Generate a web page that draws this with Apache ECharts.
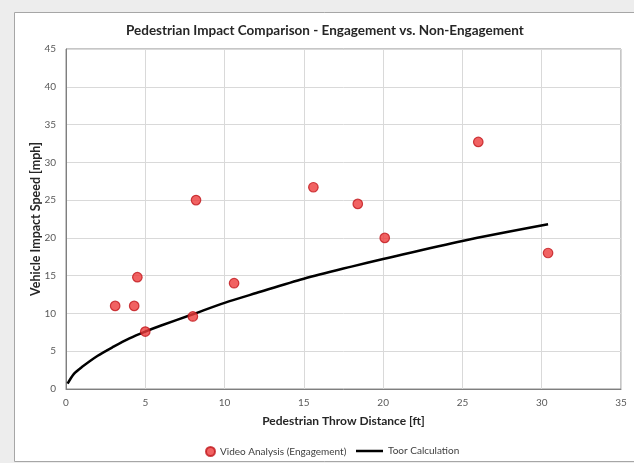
<!DOCTYPE html>
<html>
<head>
<meta charset="utf-8">
<script src="https://cdn.jsdelivr.net/npm/echarts@6/dist/echarts.min.js"></script>
<style>
  html, body { margin: 0; padding: 0; background: #ededed; }
  #chart { width: 634px; height: 463px; }
</style>
</head>
<body>
<div id="chart"></div>
<script>
// Observed pedestrian throws from video analysis
const videoDistance = [3.1, 4.3, 4.5, 5.0, 8.0, 8.2, 10.6, 15.6, 18.4, 20.1, 26.0, 30.4];
const videoSpeed    = [11.0, 11.0, 14.8, 7.6, 9.6, 25.0, 14.0, 26.7, 24.5, 20.0, 32.7, 18.0];

// Toor throw-distance relationship, tabulated
const toorDistance = [0.1, 0.5, 1, 2, 3, 4, 5, 6, 8, 10, 12, 15, 18, 20, 25, 30.4];
const toorSpeed    = [0.7, 2.0, 2.9, 4.4, 5.6, 6.7, 7.6, 8.4, 9.9, 11.4, 12.7, 14.6, 16.2, 17.2, 19.6, 21.8];

const xTicks = [0, 5, 10, 15, 20, 25, 30, 35];
const yTicks = [0, 5, 10, 15, 20, 25, 30, 35, 40, 45];

const FONT = 'Lato, "Liberation Sans", sans-serif';

const chart = echarts.init(document.getElementById('chart'), null, { renderer: 'canvas' });

const scatterData = videoDistance.map((d, i) => [d, videoSpeed[i]]);
const lineData = toorDistance.map((d, i) => [d, toorSpeed[i]]);

chart.setOption({
  animation: false,
  backgroundColor: '#ededed',
  graphic: [{
    type: 'rect',
    z: -10,
    shape: { x: 14.5, y: 12.5, width: 640, height: 449 },
    style: { fill: '#ffffff', stroke: '#a6a6a6', lineWidth: 1 }
  }],
  title: {
    text: 'Pedestrian Impact Comparison - Engagement vs. Non-Engagement',
    left: 121, top: 19,
    textStyle: { fontFamily: FONT, fontSize: 13.5, fontWeight: 'bold', color: '#262626' }
  },
  grid: {
    left: 66, right: 13, top: 49, bottom: 74,
    show: true, borderColor: '#8c8c8c', borderWidth: 1
  },
  xAxis: {
    type: 'value', min: xTicks[0], max: xTicks[xTicks.length - 1], interval: 5,
    name: 'Pedestrian Throw Distance [ft]', nameLocation: 'middle', nameGap: 26,
    nameMoveOverlap: false,
    nameTextStyle: { fontFamily: FONT, fontSize: 12, fontWeight: 'bold', color: '#262626' },
    axisLine: { show: true, lineStyle: { color: '#7f7f7f', width: 1 } },
    axisTick: { show: false },
    axisLabel: { fontFamily: FONT, fontSize: 10, color: '#595959', margin: 9 },
    splitLine: { show: true, lineStyle: { color: '#d9d9d9', width: 1 } }
  },
  yAxis: {
    type: 'value', min: yTicks[0], max: yTicks[yTicks.length - 1], interval: 5,
    name: 'Vehicle Impact Speed [mph]', nameLocation: 'middle', nameGap: 24,
    nameMoveOverlap: false,
    nameTextStyle: { fontFamily: FONT, fontSize: 12.5, fontWeight: 'bold', color: '#262626' },
    axisLine: { show: true, lineStyle: { color: '#7f7f7f', width: 1 } },
    axisTick: { show: false },
    axisLabel: { fontFamily: FONT, fontSize: 10, color: '#595959', margin: 10 },
    splitLine: { show: true, lineStyle: { color: '#d9d9d9', width: 1 } }
  },
  legend: [{
    data: ['Video Analysis (Engagement)'],
    left: 200, top: 441,
    itemWidth: 9, itemHeight: 9,
    textStyle: { fontFamily: FONT, fontSize: 10, color: '#404040' }
  }, {
    data: [{ name: 'Toor Calculation', icon: 'rect', itemStyle: { color: '#000000' } }],
    left: 351, top: 441,
    itemWidth: 27, itemHeight: 2.5,
    textStyle: { fontFamily: FONT, fontSize: 10, color: '#404040' }
  }],
  series: [{
    name: 'Video Analysis (Engagement)',
    type: 'scatter',
    data: scatterData,
    symbol: 'circle',
    symbolSize: 9.5,
    itemStyle: { color: '#ee3b3b', borderColor: '#c0171c', borderWidth: 1.2 },
    z: 3
  }, {
    name: 'Toor Calculation',
    type: 'line',
    data: lineData,
    smooth: 0.3,
    symbol: 'none',
    lineStyle: { color: '#000000', width: 2.5 },
    z: 2
  }]
});
</script>
</body>
</html>
